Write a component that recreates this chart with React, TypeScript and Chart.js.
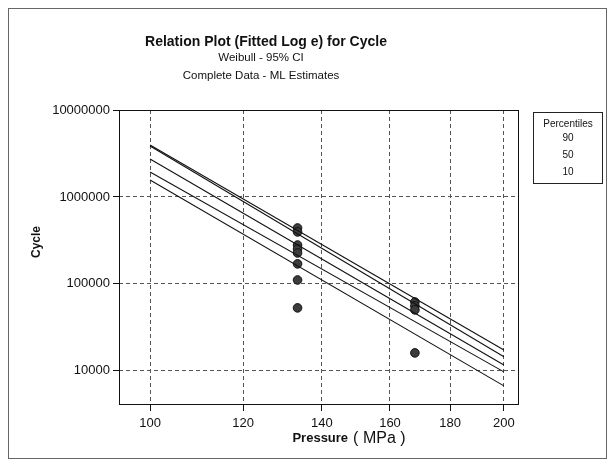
import { useEffect, useRef } from "react";
import { Chart, registerables } from "chart.js";
Chart.register(...registerables);

const titleText = "Relation Plot (Fitted Log e) for Cycle";
const subtitleLines = ["Weibull - 95% CI", "Complete Data - ML Estimates"];
const xTitleBold = "Pressure";
const xTitleUnit = "( MPa )";
const yTitle = "Cycle";
const legendTitle = "Percentiles";
const percentileLabels = ["90", "50", "10"];

const xTicks = [100, 120, 140, 160, 180, 200];
const yTicks = [10000, 100000, 1000000, 10000000];

const linePressure = [100, 200];
const line90 = [3960000, 17400];
const line50Upper = [3860000, 14500];
const line50 = [2730000, 11700];
const line50Lower = [1940000, 9740];
const line10 = [1570000, 6720];

const obsPressure = [133.5, 133.5, 133.5, 133.5, 133.5, 133.5, 133.5, 133.5, 168, 168, 168, 168];
const obsCycles = [440000, 396000, 280000, 252000, 227000, 170000, 111000, 53000, 62000, 55800, 50300, 16100];

const FONT = '"Liberation Sans", Arial, sans-serif';

const overlay = {
  id: "overlay",
  afterDraw(chart: any) {
    const ctx = chart.ctx;
    const ca = chart.chartArea;
    ctx.save();
    // outer frame
    ctx.strokeStyle = "#666";
    ctx.lineWidth = 1;
    ctx.strokeRect(8.5, 8.5, 598, 450);
    // plot box
    ctx.strokeStyle = "#111";
    const l = Math.round(ca.left) + 0.5, t = Math.round(ca.top) + 0.5;
    const r = Math.round(ca.right) - 0.5, b = Math.round(ca.bottom) - 0.5;
    ctx.strokeRect(l, t, r - l, b - t);
    // titles
    ctx.fillStyle = "#111";
    ctx.textAlign = "center";
    ctx.textBaseline = "middle";
    ctx.font = `bold 14px ${FONT}`;
    ctx.fillText(titleText, 266, 42);
    ctx.font = `11.5px ${FONT}`;
    ctx.fillText(subtitleLines[0], 261, 58);
    ctx.fillText(subtitleLines[1], 261, 76);
    // y title
    ctx.save();
    ctx.translate(37, 242);
    ctx.rotate(-Math.PI / 2);
    ctx.font = `bold 12px ${FONT}`;
    ctx.fillText(yTitle, 0, 0);
    ctx.restore();
    // x title
    ctx.textBaseline = "alphabetic";
    ctx.textAlign = "left";
    ctx.font = `bold 13px ${FONT}`;
    const w1 = ctx.measureText(xTitleBold).width;
    ctx.font = `16px ${FONT}`;
    const w2 = ctx.measureText(xTitleUnit).width;
    const gap = 5;
    const x0 = 349 - (w1 + gap + w2) / 2;
    ctx.font = `bold 13px ${FONT}`;
    ctx.fillText(xTitleBold, x0, 442);
    ctx.font = `16px ${FONT}`;
    ctx.fillText(xTitleUnit, x0 + w1 + gap, 443);
    // legend box
    ctx.strokeStyle = "#222";
    ctx.strokeRect(533.5, 112.5, 69, 71);
    ctx.textAlign = "center";
    ctx.textBaseline = "middle";
    ctx.font = `10px ${FONT}`;
    ctx.fillText(legendTitle, 568, 124);
    const ly = [138, 155, 172];
    percentileLabels.forEach((p, i) => ctx.fillText(p, 568, ly[i]));
    ctx.restore();
  },
};

function mkLine(vals: number[]) {
  return {
    type: "line" as const,
    data: linePressure.map((x, i) => ({ x, y: vals[i] })),
    borderColor: "#111",
    borderWidth: 1.1,
    pointRadius: 0,
    fill: false,
    tension: 0,
  };
}

export default function App() {
  const ref = useRef<HTMLCanvasElement>(null);
  useEffect(() => {
    if (!ref.current) return;
    const chart = new Chart(ref.current, {
      type: "scatter",
      data: {
        datasets: [
          mkLine(line90),
          mkLine(line50Upper),
          mkLine(line50),
          mkLine(line50Lower),
          mkLine(line10),
          {
            type: "scatter",
            data: obsPressure.map((x, i) => ({ x, y: obsCycles[i] })),
            backgroundColor: "#3c3c3c",
            borderColor: "#111",
            borderWidth: 1,
            pointRadius: 4.3,
          },
        ] as any,
      },
      options: {
        animation: false,
        responsive: false,
        layout: { padding: { left: 0, right: 92, top: 110, bottom: 0 } },
        plugins: { legend: { display: false }, title: { display: false }, tooltip: { enabled: false } },
        scales: {
          x: {
            type: "logarithmic",
            min: 94.1,
            max: 206,
            afterBuildTicks: (s: any) => {
              s.ticks = xTicks.map((v) => ({ value: v }));
            },
            afterFit: (s: any) => {
              s.height = 61;
            },
            ticks: {
              autoSkip: false,
              maxRotation: 0,
              padding: 5,
              color: "#111",
              font: { family: FONT, size: 13 },
              callback: (v: any) => String(v),
            },
            grid: { color: "#555", lineWidth: 1, tickLength: 6, tickColor: "#111" },
            border: { display: false, color: "#111", dash: [4, 3] },
          },
          y: {
            type: "logarithmic",
            min: 4050,
            max: 10000000,
            afterBuildTicks: (s: any) => {
              s.ticks = yTicks.map((v) => ({ value: v }));
            },
            afterFit: (s: any) => {
              s.width = 119;
            },
            ticks: {
              autoSkip: false,
              padding: 3,
              color: "#111",
              font: { family: FONT, size: 13 },
              callback: (v: any) => String(v),
            },
            grid: { color: "#555", lineWidth: 1, tickLength: 6, tickColor: "#111" },
            border: { display: false, color: "#111", dash: [4, 3] },
          },
        },
      },
      plugins: [overlay],
    });
    return () => chart.destroy();
  }, []);
  return (
    <div style={{ position: "absolute", left: 0, top: 0, width: 611, height: 466, background: "#fff" }}>
      <canvas ref={ref} width={611} height={466} style={{ display: "block" }} />
    </div>
  );
}
